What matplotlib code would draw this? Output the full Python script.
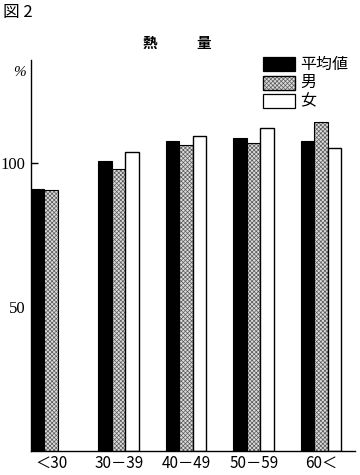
import numpy as np
import matplotlib.pyplot as plt
from matplotlib.patches import Rectangle

plt.rcParams['font.family'] = ['Noto Sans CJK JP', 'DejaVu Sans']
plt.rcParams['hatch.linewidth'] = 0.5

# age groups and values (% of requirement)
groups = ['＜30', '30－39', '40－49', '50－59', '60＜']
avg_vals = [91.0, 100.8, 107.9, 108.9, 107.7]
male_vals = [90.6, 98.2, 106.5, 107.0, 114.4]
female_vals = [np.nan, 103.9, 109.5, 112.4, 105.2]
series_names = ['平均値', '男', '女']

fig = plt.figure(figsize=(3.6, 4.75), dpi=100)
ax = fig.add_axes([0.086, 0.0505, 0.90, 0.8235])

x = np.arange(len(groups))
w = 0.2
grey_fill = '#dcdcdc'
grey_hatch = '#5a5a5a'
hatch = 'xxxxxxxx'

ax.bar(x + 0.1, avg_vals, width=w, color='black', edgecolor='black', linewidth=0.8)
# grey checkered bars: fill + outline
ax.bar(x + 0.3, male_vals, width=w, color=grey_fill, edgecolor=grey_hatch,
       hatch=hatch, linewidth=0)
ax.bar(x + 0.3, male_vals, width=w, fill=False, edgecolor='black', linewidth=0.8)
ax.bar(x + 0.5, female_vals, width=w, color='white', edgecolor='black', linewidth=1.0)

ax.set_xlim(0, 4.8)
ax.set_ylim(0, 136)
ax.set_yticks([50, 100])
ax.set_yticklabels(['50', '100'], fontsize=12, family=['Liberation Serif'])
ax.tick_params(axis='y', direction='in', length=5, width=1, pad=4)
ax.set_xticks(x + 0.3)
ax.set_xticklabels(groups, fontsize=11)
ax.tick_params(axis='x', length=0, pad=3)
ax.spines['top'].set_visible(False)
ax.spines['right'].set_visible(False)
ax.spines['left'].set_linewidth(1.0)
ax.spines['bottom'].set_linewidth(1.0)

# legend drawn as patches in figure coords
leg_y = [0.850, 0.811, 0.773]
styles = [dict(facecolor='black', edgecolor='black'),
          dict(facecolor=grey_fill, edgecolor=grey_hatch, hatch=hatch),
          dict(facecolor='white', edgecolor='black')]
for yy, st, name in zip(leg_y, styles, series_names):
    fig.add_artist(Rectangle((263 / 360, yy), 32 / 360, 0.029, transform=fig.transFigure,
                             linewidth=0.9, **st))
    if 'hatch' in st:
        fig.add_artist(Rectangle((263 / 360, yy), 32 / 360, 0.029, transform=fig.transFigure,
                                 fill=False, edgecolor='black', linewidth=0.9))
    fig.text(300 / 360, yy + 0.0145, name, fontsize=11.5, va='center', ha='left')

fig.text(3 / 360, 1 - 13 / 475, '図 2', fontsize=12, va='center', ha='left')
fig.text(150 / 360, 1 - 43 / 475, '熱', fontsize=10.5, va='center', ha='center', weight='bold')
fig.text(204 / 360, 1 - 43 / 475, '量', fontsize=10.5, va='center', ha='center', weight='bold')
fig.text(20 / 360, 1 - 72 / 475, '%', fontsize=11, va='center', ha='center',
         family=['Liberation Serif'], style='italic')

fig.savefig('out.png', dpi=100)
